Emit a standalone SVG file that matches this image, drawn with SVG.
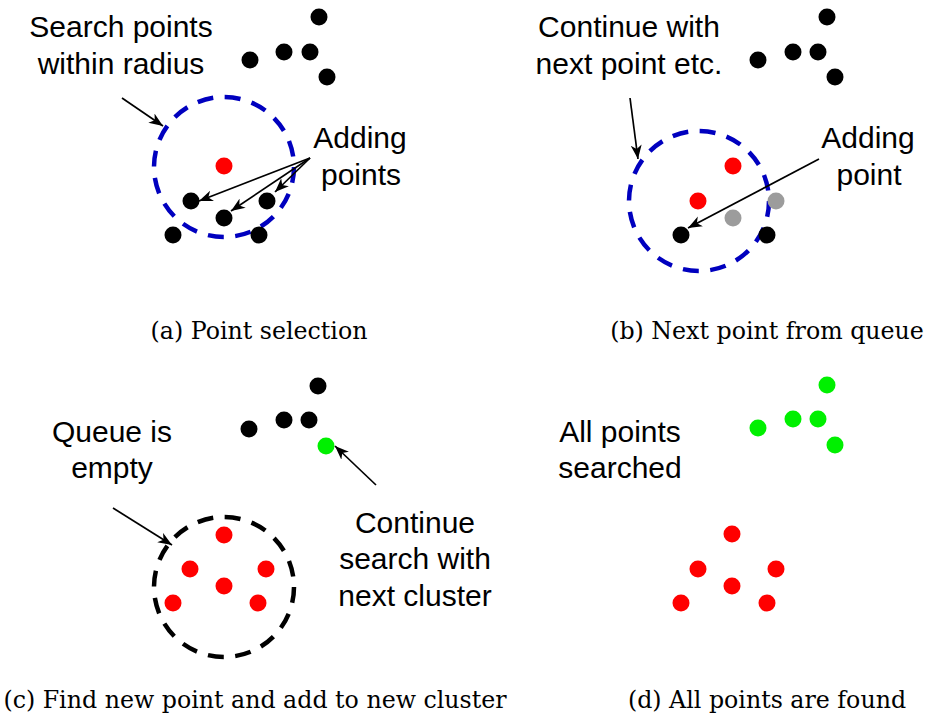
<svg xmlns="http://www.w3.org/2000/svg" width="928" height="715" viewBox="0 0 928 715">
<style>
.lbl{font-family:"Liberation Sans",Arial,sans-serif;font-size:30px;fill:#000;text-anchor:middle}
.cap{font-family:"DejaVu Serif","Liberation Serif",serif;font-size:23.7px;fill:#000;text-anchor:middle}
.k{fill:#000}.r{fill:#ff0000}.g{fill:#00f000}.gr{fill:#9c9c9c}
.ring{fill:none;stroke-width:4.5;stroke-dasharray:16 11.5}
.arr{stroke:#000;stroke-width:1.7;fill:none;marker-end:url(#ah)}
</style>
<defs>
<marker id="ah" markerUnits="userSpaceOnUse" markerWidth="16" markerHeight="12" refX="14" refY="5.5" orient="auto" viewBox="0 0 16 11">
<path d="M0,0 L14,5.5 L0,11 L4,5.5 z" fill="#000"/>
</marker>
</defs>
<rect width="928" height="715" fill="#fff"/>

<g id="panel-a">
<circle class="ring" cx="224" cy="167" r="70" stroke="#0000bf"/>
<g id="a-dots">
<circle class="k" cx="319" cy="17" r="8.5"/><circle class="k" cx="284" cy="52" r="8.5"/><circle class="k" cx="310" cy="52" r="8.5"/><circle class="k" cx="250" cy="60" r="8.5"/><circle class="k" cx="327" cy="77" r="8.5"/>
<circle class="r" cx="224" cy="166" r="8.5"/>
<circle class="k" cx="191" cy="201" r="8.5"/><circle class="k" cx="224" cy="218" r="8.5"/><circle class="k" cx="267" cy="201" r="8.5"/><circle class="k" cx="173" cy="235" r="8.5"/><circle class="k" cx="259" cy="235" r="8.5"/>
</g>
<text class="lbl" x="121" y="37">Search points</text>
<text class="lbl" x="121" y="74">within radius</text>
<text class="lbl" x="360" y="148">Adding</text>
<text class="lbl" x="361" y="185">points</text>
<text class="cap" x="259" y="339">(a) Point selection</text>
</g>

<g id="panel-b">
<circle class="ring" cx="699" cy="201" r="70" stroke="#0000bf"/>
<g id="b-dots">
<circle class="k" cx="827" cy="17" r="8.5"/><circle class="k" cx="793" cy="52" r="8.5"/><circle class="k" cx="818" cy="52" r="8.5"/><circle class="k" cx="758" cy="60" r="8.5"/><circle class="k" cx="835" cy="77" r="8.5"/>
<circle class="r" cx="733" cy="166" r="8.5"/><circle class="r" cx="698" cy="201" r="8.5"/>
<circle class="gr" cx="733" cy="218" r="8.5"/><circle class="gr" cx="776" cy="201" r="8.5"/>
<circle class="k" cx="681" cy="235" r="8.5"/><circle class="k" cx="767" cy="235" r="8.5"/>
</g>
<text class="lbl" x="629" y="37">Continue with</text>
<text class="lbl" x="629" y="74">next point etc.</text>
<text class="lbl" x="868" y="148">Adding</text>
<text class="lbl" x="869" y="185">point</text>
<text class="cap" x="767" y="339">(b) Next point from queue</text>
</g>

<g id="panel-c">
<circle class="ring" cx="224" cy="587" r="70" stroke="#000"/>
<g id="c-dots">
<circle class="k" cx="318" cy="386" r="8.5"/><circle class="k" cx="284" cy="420" r="8.5"/><circle class="k" cx="309" cy="420" r="8.5"/><circle class="k" cx="249" cy="429" r="8.5"/>
<circle class="g" cx="326" cy="446" r="8.5"/>
<circle class="r" cx="224" cy="535" r="8.5"/><circle class="r" cx="190" cy="569" r="8.5"/><circle class="r" cx="266" cy="569" r="8.5"/><circle class="r" cx="224" cy="586" r="8.5"/><circle class="r" cx="173" cy="603" r="8.5"/><circle class="r" cx="258" cy="603" r="8.5"/>
</g>
<text class="lbl" x="112" y="442">Queue is</text>
<text class="lbl" x="112" y="478">empty</text>
<text class="lbl" x="415" y="533">Continue</text>
<text class="lbl" x="415" y="569">search with</text>
<text class="lbl" x="415" y="606">next cluster</text>
<text class="cap" x="255" y="708">(c) Find new point and add to new cluster</text>
</g>

<g id="panel-d">
<g id="d-dots">
<circle class="g" cx="827" cy="385" r="8.5"/><circle class="g" cx="793" cy="419" r="8.5"/><circle class="g" cx="818" cy="419" r="8.5"/><circle class="g" cx="758" cy="428" r="8.5"/><circle class="g" cx="835" cy="445" r="8.5"/>
<circle class="r" cx="732" cy="534" r="8.5"/><circle class="r" cx="698" cy="569" r="8.5"/><circle class="r" cx="776" cy="569" r="8.5"/><circle class="r" cx="732" cy="586" r="8.5"/><circle class="r" cx="681" cy="603" r="8.5"/><circle class="r" cx="767" cy="603" r="8.5"/>
</g>
<text class="lbl" x="620" y="442">All points</text>
<text class="lbl" x="620" y="478">searched</text>
<text class="cap" x="767" y="708">(d) All points are found</text>
</g>

<g id="connectors">
<line class="arr" x1="122" y1="98" x2="163" y2="126"/>
<line class="arr" x1="310" y1="158" x2="199" y2="201"/>
<line class="arr" x1="310" y1="158" x2="231" y2="211"/>
<line class="arr" x1="310" y1="158" x2="275" y2="192"/>
<line class="arr" x1="630" y1="98" x2="638" y2="159"/>
<line class="arr" x1="819" y1="159" x2="688" y2="228"/>
<line class="arr" x1="113" y1="508" x2="172" y2="545"/>
<line class="arr" x1="376" y1="485" x2="335" y2="446"/>
</g>
</svg>
